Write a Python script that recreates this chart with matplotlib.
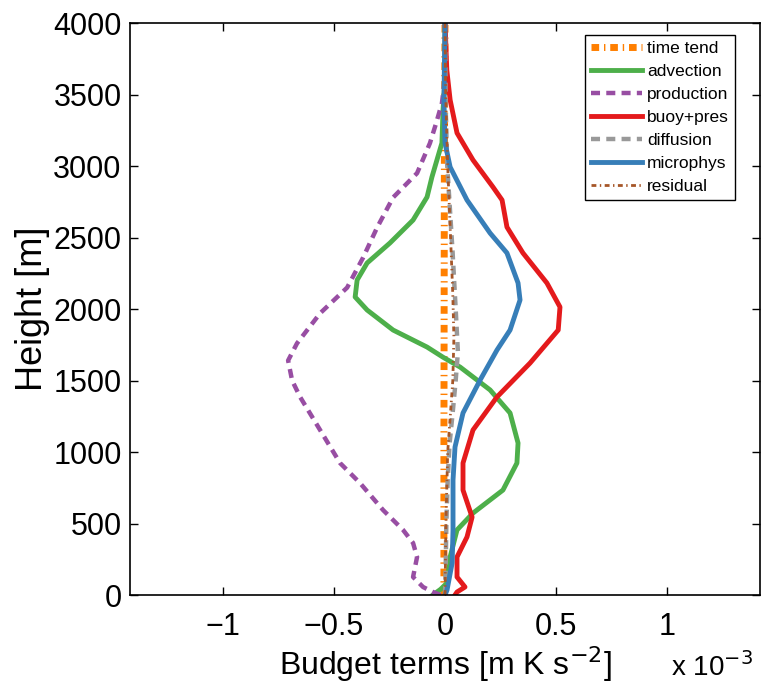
import matplotlib
matplotlib.use('Agg')
import matplotlib.pyplot as plt

plt.rcParams['font.family'] = ['Liberation Sans', 'DejaVu Sans']
plt.rcParams['lines.scale_dashes'] = False

# budget terms, units of 1e-3 m K s^-2, against height [m]
h_time = [0, 1000, 2000, 3000, 4000]
time_tend = [-0.005, -0.005, -0.004, -0.003, 0.0]

h_adv = [0, 40, 84, 266, 455, 573, 734, 923, 1063, 1273, 1434, 1594, 1664, 1734,
         1853, 1993, 2084, 2203, 2322, 2462, 2622, 2783, 2923, 3161, 3392, 3600, 4000]
advection = [-0.055, -0.02, 0.009, 0.023, 0.054, 0.126, 0.261, 0.324, 0.329, 0.293, 0.203, 0.068, -0.01, -0.081,
             -0.234, -0.351, -0.405, -0.396, -0.351, -0.248, -0.144, -0.081, -0.059, -0.014, -0.009, 0.0, 0.0]

h_prod = [0, 21, 56, 126, 266, 364, 455, 594, 783, 923, 1154, 1385, 1500, 1640, 1760,
          1970, 2150, 2360, 2570, 2780, 2950, 3160, 3300, 3440, 3550, 3700, 4000]
production = [-0.02, -0.054, -0.099, -0.144, -0.126, -0.144, -0.189, -0.279, -0.383, -0.473, -0.563, -0.653, -0.689, -0.707, -0.667,
              -0.563, -0.441, -0.369, -0.306, -0.234, -0.126, -0.068, -0.04, -0.014, -0.005, 0.0, 0.0]

h_buoy = [0, 21, 56, 126, 266, 406, 545, 734, 923, 1154, 1385, 1622, 1853, 2014,
          2182, 2392, 2573, 2762, 2853, 3042, 3231, 3462, 3671, 4000]
buoy_pres = [0.045, 0.054, 0.09, 0.054, 0.054, 0.099, 0.122, 0.081, 0.081, 0.126, 0.234, 0.383, 0.51, 0.518,
             0.459, 0.351, 0.279, 0.257, 0.216, 0.126, 0.054, 0.023, 0.008, 0.0]

h_diff = [0, 200, 500, 800, 1050, 1300, 1500, 1700, 2000, 2400, 2700, 3000, 3400, 4000]
diffusion = [0.0, 0.003, 0.006, 0.012, 0.02, 0.036, 0.048, 0.058, 0.048, 0.034, 0.022, 0.01, 0.003, 0.0]

h_micro = [0, 35, 224, 455, 804, 1035, 1273, 1503, 1713, 1853, 2063, 2182, 2392, 2531,
           2762, 2993, 3161, 3462, 4000]
microphys = [0.0, 0.009, 0.032, 0.036, 0.036, 0.045, 0.081, 0.158, 0.234, 0.293, 0.338, 0.329, 0.279, 0.203,
             0.099, 0.023, 0.0, -0.005, 0.0]

h_res = [0, 500, 1000, 1500, 1800, 2100, 2500, 3000, 3500, 4000]
residual = [0.0, 0.004, 0.012, 0.035, 0.04, 0.035, 0.025, 0.012, 0.003, 0.0]

fig = plt.figure(figsize=(7.64, 6.83), dpi=100)
ax = fig.add_axes([0.170, 0.1288, 0.825, 0.8375])

kw = dict(solid_joinstyle='round', dash_joinstyle='round')
ax.plot(time_tend, h_time, color='#ff7f00', lw=5, dashes=[5.5, 3.5, 1.0, 3.5], label='time tend')
ax.plot(advection, h_adv, color='#4daf4a', lw=3.5, label='advection', **kw)
ax.plot(production, h_prod, color='#984ea3', lw=3.2, dashes=[6.5, 4.5], label='production', **kw)
ax.plot(buoy_pres, h_buoy, color='#e41a1c', lw=3.5, label='buoy+pres', **kw)
ax.plot(diffusion, h_diff, color='#999999', lw=3.2, dashes=[6.5, 4.5], label='diffusion', **kw)
ax.plot(microphys, h_micro, color='#377eb8', lw=3.5, label='microphys', **kw)
ax.plot(residual, h_res, color='#a65628', lw=2, dashes=[3.5, 2.5, 1.0, 2.5], label='residual')

ax.set_xlim(-1.42, 1.42)
ax.set_ylim(0, 4000)
ax.set_xticks([-1, -0.5, 0, 0.5, 1])
ax.set_xticklabels(['\u22121', '\u22120.5', '0', '0.5', '1'])
ax.set_yticks(range(0, 4001, 500))
ax.tick_params(direction='in', length=6, width=1, labelsize=22,
               top=True, right=True)
ax.tick_params(axis='x', pad=12)
ax.tick_params(axis='y', pad=6)
for s in ax.spines.values():
    s.set_linewidth(1.2)

ax.set_xlabel(r'Budget terms [m K s$^{-2}$]', fontsize=23, labelpad=2)
ax.set_ylabel('Height [m]', fontsize=26, labelpad=2)
fig.text(0.878, 0.002, r'x 10$^{-3}$', fontsize=20, ha='left', va='bottom')

leg = ax.legend(loc='upper right', bbox_to_anchor=(0.960, 0.979), borderaxespad=0,
                fontsize=12.5, handlelength=2.9, handletextpad=0.3, labelspacing=0.45,
                fancybox=False, framealpha=1, edgecolor='black', borderpad=0.35)
leg.get_frame().set_linewidth(1.0)

fig.savefig('out.png', dpi=100)
